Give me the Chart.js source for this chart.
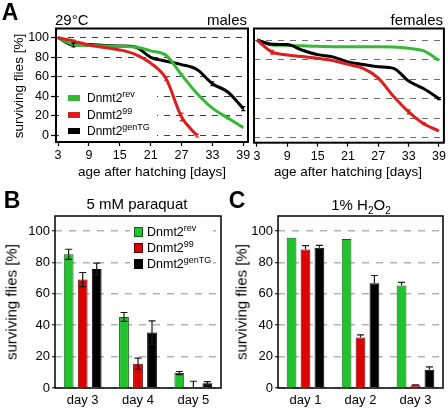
<!DOCTYPE html>
<html>
<head>
<meta charset="utf-8">
<script src="https://cdn.jsdelivr.net/npm/chart.js@4.4.1/dist/chart.umd.min.js"></script>
<style>
    body { margin: 0; background: #fff; font-family: Arial, "Liberation Sans", Helvetica, sans-serif; color: #000; }
    #fig { position: relative; width: 448px; height: 409px; overflow: hidden; }
    #fig canvas { position: absolute; left: 0; top: 0; }
    .t { position: absolute; white-space: nowrap; line-height: 1; }
    .c { transform: translate(-50%, -50%); }
    .l { transform: translateY(-50%); }
    .r { transform: translate(-100%, -50%); }
    .v { transform: translate(-50%, -50%) rotate(-90deg); }
    .letter { font-weight: bold; font-size: 23px; }
    .sup { font-size: 9px; position: relative; top: -5px; }
    .sub { font-size: 10px; position: relative; top: 4px; }
    .sw { position: absolute; transform: translateY(-50%); box-sizing: border-box; }
    .legbg { position: absolute; background: #fff; }
</style>
</head>
<body>
<div id="fig">
    <canvas id="malesChart" width="448" height="409"></canvas>
    <canvas id="femalesChart" width="448" height="409"></canvas>
    <canvas id="paraquatChart" width="448" height="409"></canvas>
    <canvas id="peroxideChart" width="448" height="409"></canvas>

    <div class="t c letter" style="left:10px;top:12px">A</div>
    <div class="t l" style="left:55px;top:19px;font-size:15px">29°C</div>
    <div class="t r" style="left:247px;top:19px;font-size:15px">males</div>
    <div class="t r" style="left:443px;top:19px;font-size:15px">females</div>
    <div class="t v" style="left:19px;top:86px;font-size:13.5px">surviving flies [%]</div>
    <div class="t c" style="left:152px;top:172px;font-size:13.5px">age after hatching [days]</div>
    <div class="t c" style="left:348px;top:172px;font-size:13.5px">age after hatching [days]</div>
    <div class="legbg" style="left:59px;top:89px;width:98px;height:50px"></div>
    <div id="legendA"></div>

    <div class="t c letter" style="left:12px;top:200px">B</div>
    <div class="t c" style="left:137px;top:203px;font-size:15px">5 mM paraquat</div>
    <div class="t v" style="left:11px;top:302px;font-size:15px">surviving flies [%]</div>
    <div class="legbg" style="left:130px;top:224px;width:83px;height:48px"></div>
    <div id="legendB"></div>

    <div class="t c letter" style="left:237px;top:200px">C</div>
    <div class="t c" style="left:361px;top:204px;font-size:15px">1% H<span class="sub">2</span>O<span class="sub">2</span></div>
    <div class="t v" style="left:241px;top:302px;font-size:15px">surviving flies [%]</div>
</div>

<script>
// ---- data ----
const genoBase = 'Dnmt2';
const genoSup = ['rev', '99', 'genTG'];

// panel A: survival over age (days after hatching)
const days = [3, 6, 9, 12, 15, 18, 21, 24, 27, 30, 33, 36, 39];
const dayTicks = [3, 9, 15, 21, 27, 33, 39];
const survTicks = [0, 20, 40, 60, 80, 100];

const malesRev = [100, 93, 92, 91.5, 91, 90.5, 86.5, 82, 62, 43, 28, 18, 8];
const malesD99 = [100, 96.5, 92.5, 90, 87.5, 83, 74, 58, 19, 0];
const malesGenTG = [100, 92.5, 93, 92, 91.5, 90.5, 80, 76, 72.5, 67.5, 53, 44.5, 27.5];
const malesRevErr = [0, 0, 0, 0, 0, 0, 0, 0, 1, 0, 0, 1, 0];
const malesD99Err = [0, 1, 0, 0, 0, 0, 0, 2, 4, 1.5];
const malesGenTGErr = [0, 2, 0, 0, 0, 0, 0, 0, 0, 0, 2, 0, 2];

const femalesRev = [100, 95, 94.5, 94, 93.6, 93.2, 93, 93, 93, 92.8, 91.5, 88.8, 79];
const femalesD99 = [100, 87.5, 84.7, 83, 81.4, 79, 75, 71, 61, 42.4, 26.4, 14.2, 6.8];
const femalesGenTG = [100, 95.6, 95.3, 89.5, 85, 82.7, 77.6, 75, 72.6, 71, 58, 50, 40];
const femalesD99Err = [0, 2, 0, 0, 0, 0, 0, 0, 0, 0, 2, 1, 0];
const femalesGenTGErr = [0, 0, 0, 0, 0, 0, 0, 0, 0, 0, 0, 0, 1];

// panel B: 5 mM paraquat
const paraquatDays = ['day 3', 'day 4', 'day 5'];
const paraquatRev = [85.2, 45.3, 9.5];
const paraquatD99 = [69.1, 15.5, 0.3];
const paraquatGenTG = [75.8, 35.4, 3];
const paraquatRevErr = [3.2, 2.8, 1];
const paraquatD99Err = [4.5, 3.6, 4];
const paraquatGenTGErr = [3.8, 7.4, 1];

// panel C: 1% H2O2
const peroxideDays = ['day 1', 'day 2', 'day 3'];
const peroxideRev = [95.8, 94.9, 65.3];
const peroxideD99 = [88.3, 32.2, 1.7];
const peroxideGenTG = [89.4, 66.7, 11.7];
const peroxideRevErr = [0, 0, 2];
const peroxideD99Err = [2.4, 1.7, 0.3];
const peroxideGenTGErr = [1.5, 5, 1.8];

const barTicks = [0, 20, 40, 60, 80, 100];

// ---- styles ----
const lineColors = ['#35b935', '#dc1e1e', '#000000'];
const barFill = ['#22c22e', '#dd0000', '#000000'];
const barEdge = ['#0f5f14', '#5a0000', '#000000'];

Chart.defaults.font.family = 'Arial, "Liberation Sans", Helvetica, sans-serif';
Chart.defaults.color = '#000';

// box around the plot area
const framePlugin = {
    id: 'frame',
    afterDraw(chart, args, opts) {
        const a = chart.chartArea;
        const ctx = chart.ctx;
        ctx.save();
        ctx.strokeStyle = '#000';
        ctx.lineWidth = opts.width || 1.5;
        ctx.strokeRect(a.left, a.top, a.right - a.left, a.bottom - a.top);
        ctx.restore();
    }
};

// error bars read from dataset.errors
const errorBarPlugin = {
    id: 'errorBars',
    afterDatasetsDraw(chart, args, opts) {
        const ctx = chart.ctx;
        const yScale = chart.scales.y;
        const a = chart.chartArea;
        ctx.save();
        ctx.beginPath();
        ctx.rect(a.left, a.top, a.right - a.left, a.bottom - a.top);
        ctx.clip();
        chart.data.datasets.forEach((ds, di) => {
            if (!ds.errors) return;
            const meta = chart.getDatasetMeta(di);
            meta.data.forEach((el, i) => {
                const err = ds.errors[i];
                if (!err) return;
                const raw = ds.data[i];
                const v = typeof raw === 'object' ? raw.y : raw;
                const yTop = yScale.getPixelForValue(v + err);
                const yBot = yScale.getPixelForValue(opts.upOnly ? v : v - err);
                const x = el.x;
                const w = opts.capWidth / 2;
                ctx.strokeStyle = opts.color || ds.borderColor;
                ctx.lineWidth = opts.lineWidth || 1;
                ctx.beginPath();
                ctx.moveTo(x, yTop); ctx.lineTo(x, yBot);
                ctx.moveTo(x - w, yTop); ctx.lineTo(x + w, yTop);
                if (!opts.upOnly) { ctx.moveTo(x - w, yBot); ctx.lineTo(x + w, yBot); }
                ctx.stroke();
            });
        });
        ctx.restore();
    }
};

// survival curves (panel A)
function survivalChart(id, series, box, yAxisWidth, gridColor) {
    const xAxisHeight = 48;
    return new Chart(document.getElementById(id), {
        type: 'line',
        data: {
            datasets: series.map(s => ({
                label: s.label,
                data: s.values.map((v, i) => ({ x: days[i], y: v })),
                errors: s.errors,
                borderColor: s.color,
                backgroundColor: s.color,
                borderWidth: 3,
                pointRadius: 0,
                cubicInterpolationMode: 'monotone',
                borderJoinStyle: 'round',
                order: s.order
            }))
        },
        options: {
            responsive: false,
            animation: false,
            devicePixelRatio: 1,
            events: [],
            layout: {
                padding: {
                    left: box.left - yAxisWidth,
                    top: box.top,
                    right: 448 - box.right,
                    bottom: 409 - box.bottom - xAxisHeight
                }
            },
            plugins: {
                legend: { display: false },
                tooltip: { enabled: false },
                frame: { width: 2 },
                errorBars: { capWidth: 4, lineWidth: 1.2 }
            },
            scales: {
                x: {
                    type: 'linear',
                    min: box.xMin,
                    max: box.xMax,
                    afterBuildTicks: ax => { ax.ticks = dayTicks.map(v => ({ value: v })); },
                    afterFit: ax => { ax.height = xAxisHeight; },
                    grid: { drawOnChartArea: false, drawTicks: true, tickLength: 4, tickColor: '#000', tickWidth: 1.2 },
                    border: { display: false },
                    ticks: { font: { size: 12.5 }, color: '#000', padding: 2, maxRotation: 0, autoSkip: false }
                },
                y: {
                    type: 'linear',
                    min: box.yMin,
                    max: box.yMax,
                    afterBuildTicks: ax => { ax.ticks = survTicks.map(v => ({ value: v })); },
                    afterFit: ax => { ax.width = yAxisWidth; },
                    grid: { color: gridColor, lineWidth: 1, drawTicks: yAxisWidth > 0, tickLength: 5, tickColor: '#000', tickWidth: 1.2 },
                    border: { display: false, dash: [6, 6] },
                    ticks: { display: yAxisWidth > 0, font: { size: 12.5 }, color: '#000', padding: 2 }
                }
            }
        },
        plugins: [framePlugin, errorBarPlugin]
    });
}

// grouped bars with error bars (panels B and C)
function barChart(id, cats, values, errors, box, upOnly) {
    const yAxisWidth = 40;
    const xAxisHeight = 20;
    return new Chart(document.getElementById(id), {
        type: 'bar',
        data: {
            labels: cats,
            datasets: values.map((vals, k) => ({
                label: genoBase + genoSup[k],
                data: vals,
                errors: errors[k],
                backgroundColor: barFill[k],
                borderColor: barEdge[k],
                borderWidth: 1,
                categoryPercentage: 0.76,
                barPercentage: 0.7
            }))
        },
        options: {
            responsive: false,
            animation: false,
            devicePixelRatio: 1,
            events: [],
            layout: {
                padding: {
                    left: box.left - yAxisWidth,
                    top: box.top,
                    right: 448 - box.right,
                    bottom: 409 - box.bottom - xAxisHeight
                }
            },
            plugins: {
                legend: { display: false },
                tooltip: { enabled: false },
                frame: { width: 1.5 },
                errorBars: { capWidth: 7, lineWidth: 1.2, color: '#1a1a1a', upOnly: upOnly }
            },
            scales: {
                x: {
                    afterFit: ax => { ax.height = xAxisHeight; },
                    grid: { display: false, drawTicks: false, tickLength: 0 },
                    border: { display: false },
                    ticks: { font: { size: 13 }, color: '#000', padding: 5, maxRotation: 0 }
                },
                y: {
                    min: 0,
                    max: 109.6,
                    afterBuildTicks: ax => { ax.ticks = barTicks.map(v => ({ value: v })); },
                    afterFit: ax => { ax.width = yAxisWidth; },
                    grid: { color: '#b4b4b4', lineWidth: 1.5, drawTicks: true, tickLength: 3, tickColor: '#000', tickWidth: 1 },
                    border: { display: false, dash: [7, 7] },
                    ticks: { font: { size: 13 }, color: '#000', padding: 2 }
                }
            }
        },
        plugins: [framePlugin, errorBarPlugin]
    });
}

survivalChart('malesChart', [
    { label: genoBase + genoSup[0], values: malesRev, errors: malesRevErr, color: lineColors[0], order: 1 },
    { label: genoBase + genoSup[1], values: malesD99, errors: malesD99Err, color: lineColors[1], order: 0 },
    { label: genoBase + genoSup[2], values: malesGenTG, errors: malesGenTGErr, color: lineColors[2], order: 2 }
], { left: 56, right: 248, top: 28.5, bottom: 142, xMin: 2.61, xMax: 39.91, yMin: -6.6, yMax: 109.4 }, 56, '#3c3c3c');

survivalChart('femalesChart', [
    { label: genoBase + genoSup[0], values: femalesRev, errors: null, color: lineColors[0], order: 2 },
    { label: genoBase + genoSup[1], values: femalesD99, errors: femalesD99Err, color: lineColors[1], order: 0 },
    { label: genoBase + genoSup[2], values: femalesGenTG, errors: femalesGenTGErr, color: lineColors[2], order: 1 }
], { left: 254, right: 445, top: 28.5, bottom: 142.7, xMin: 2.41, xMax: 39.98, yMin: -5.2, yMax: 111.8 }, 0, '#6e6e6e');

barChart('paraquatChart', paraquatDays,
    [paraquatRev, paraquatD99, paraquatGenTG],
    [paraquatRevErr, paraquatD99Err, paraquatGenTGErr],
    { left: 55, right: 221, top: 216, bottom: 388 }, false);

barChart('peroxideChart', peroxideDays,
    [peroxideRev, peroxideD99, peroxideGenTG],
    [peroxideRevErr, peroxideD99Err, peroxideGenTGErr],
    { left: 278, right: 443, top: 216, bottom: 388 }, true);

// legends with superscripts (built from the genotype lists)
function buildLegend(el, rows, sw, textLeft, fontSize, boxed) {
    let html = '';
    genoSup.forEach((sup, k) => {
        const y = rows[k];
        const border = boxed ? 'border:1px solid ' + barEdge[k] + ';' : '';
        const fill = boxed ? barFill[k] : lineColors[k];
        html += '<div class="sw" style="left:' + sw.left + 'px;top:' + y + 'px;width:' + sw.w + 'px;height:' + sw.h + 'px;background:' + fill + ';' + border + '"></div>';
        html += '<div class="t l" style="left:' + textLeft + 'px;top:' + y + 'px;font-size:' + fontSize + 'px">' + genoBase + '<span class="sup">' + sup + '</span></div>';
    });
    el.innerHTML = html;
}
buildLegend(document.getElementById('legendA'), [98, 115, 131], { left: 68, w: 12, h: 6 }, 87, 12, false);
buildLegend(document.getElementById('legendB'), [231.5, 247.5, 264], { left: 134, w: 9, h: 10 }, 147, 12.5, true);
</script>
</body>
</html>
